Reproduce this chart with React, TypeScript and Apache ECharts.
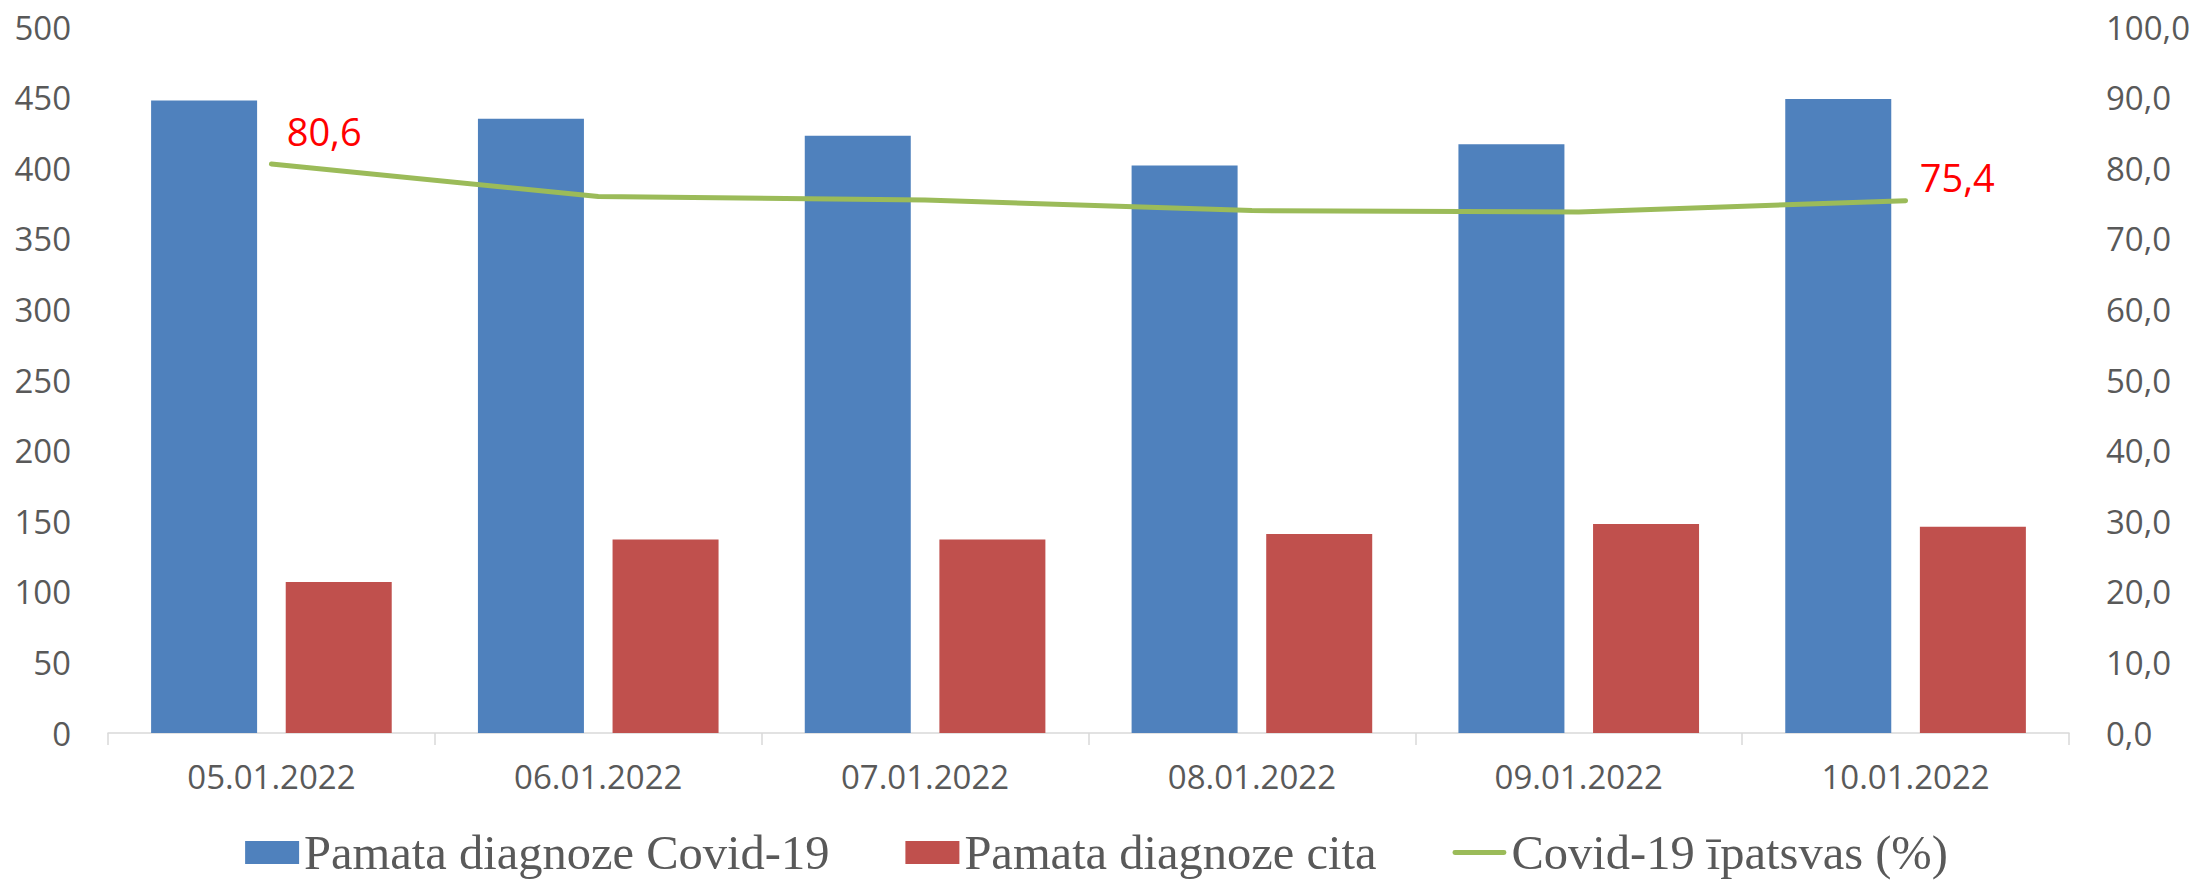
import React, { useEffect, useRef } from "react";
import * as echarts from "echarts";

const categories = ["05.01.2022", "06.01.2022", "07.01.2022", "08.01.2022", "09.01.2022", "10.01.2022"];
const covidMain = [448, 435, 423, 402, 417, 449];
const otherMain = [107, 137, 137, 141, 148, 146];
const covidShare = [80.6, 76.0, 75.5, 74.0, 73.8, 75.4];
const seriesNames = ["Pamata diagnoze Covid-19", "Pamata diagnoze cita", "Covid-19 īpatsvas (%)"];

const fmt1 = (v: number) => v.toFixed(1).replace(".", ",");

export default function App() {
  const ref = useRef<HTMLDivElement>(null);
  useEffect(() => {
    if (!ref.current) return;
    const chart = echarts.init(ref.current, null, { renderer: "svg" });
    const axisFont = { fontFamily: "'Open Sans', sans-serif", fontSize: 33, color: "#595959" };
    chart.setOption({
      animation: false,
      backgroundColor: "#ffffff",
      grid: { left: 108, right: 124, top: 27, bottom: 147, containLabel: false },
      legend: {
        left: "center",
        top: 823,
        itemWidth: 54,
        itemHeight: 23,
        itemGap: 76,
        symbolKeepAspect: true,
        textStyle: { fontFamily: "'Liberation Serif', 'Times New Roman', serif", fontSize: 48.5, color: "#595959" },
        data: [
          { name: seriesNames[0], icon: "rect" },
          { name: seriesNames[1], icon: "rect" },
          {
            name: seriesNames[2],
            icon: "path://M2,0 L52,0 A2.5,2.5 0 0 1 52,5 L2,5 A2.5,2.5 0 0 1 2,0 Z",
            itemStyle: { color: "#9BBB59", opacity: 1 },
          },
        ],
      },
      xAxis: {
        type: "category",
        data: categories,
        axisLine: { show: true, lineStyle: { color: "#D9D9D9", width: 1.5 } },
        axisTick: { show: true, alignWithLabel: false, length: 12, lineStyle: { color: "#D9D9D9", width: 1.5 } },
        axisLabel: { ...axisFont, margin: 27 },
        splitLine: { show: false },
      },
      yAxis: [
        {
          type: "value",
          min: 0,
          max: 500,
          interval: 50,
          axisLine: { show: false },
          axisTick: { show: false },
          splitLine: { show: false },
          axisLabel: { ...axisFont, margin: 37 },
        },
        {
          type: "value",
          min: 0,
          max: 100,
          interval: 10,
          axisLine: { show: false },
          axisTick: { show: false },
          splitLine: { show: false },
          axisLabel: { ...axisFont, margin: 37, formatter: (v: number) => fmt1(v) },
        },
      ],
      series: [
        {
          name: seriesNames[0],
          type: "bar",
          data: covidMain,
          barWidth: 106,
          barGap: "27%",
          itemStyle: { color: "#4F81BD" },
        },
        {
          name: seriesNames[1],
          type: "bar",
          data: otherMain,
          barWidth: 106,
          itemStyle: { color: "#C0504D" },
        },
        {
          name: seriesNames[2],
          type: "line",
          yAxisIndex: 1,
          symbol: "circle",
          symbolSize: 0.5,
          showSymbol: true,
          lineStyle: { color: "#9BBB59", width: 5, cap: "round" },
          itemStyle: { color: "#9BBB59" },
          label: { show: false },
          data: covidShare.map((v, i) => {
            if (i === 0 || i === covidShare.length - 1) {
              return {
                value: v,
                label: {
                  show: true,
                  position: "right",
                  distance: 5,
                  offset: i === 0 ? [10, -33] : [9, -24],
                  formatter: (p: any) => fmt1(p.value),
                  fontFamily: "'Open Sans', sans-serif",
                  fontSize: 38,
                  color: "#FF0000",
                },
              };
            }
            return v;
          }),
        },
      ],
    });
    return () => chart.dispose();
  }, []);
  return <div ref={ref} style={{ position: "fixed", left: 0, top: 0, width: 2193, height: 880 }} />;
}
